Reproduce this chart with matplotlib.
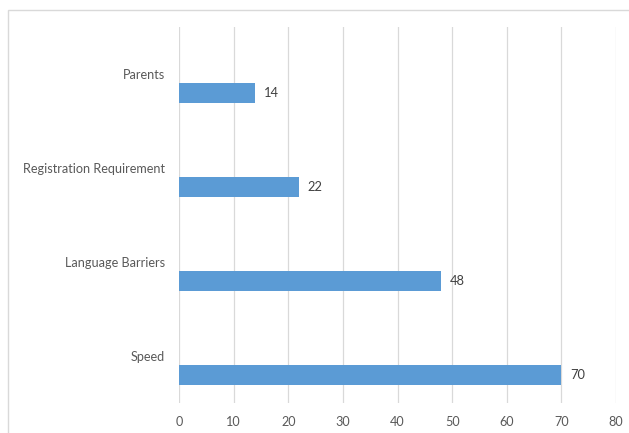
import matplotlib
matplotlib.use("Agg")
import matplotlib.pyplot as plt
from matplotlib.patches import Rectangle

categories = ["Speed", "Language Barriers", "Registration Requirement", "Parents"]
values = [70, 48, 22, 14]
xticks = [0, 10, 20, 30, 40, 50, 60, 70, 80]

plt.rcParams['font.family'] = ['Lato', 'DejaVu Sans']

W, H = 629, 433
fig = plt.figure(figsize=(W / 100, H / 100), dpi=100)
ax = fig.add_axes([179 / W, 1 - 403 / H, (616 - 179) / W, (403 - 27) / H])

# chart frame
fig.patches.append(Rectangle((8 / W, -0.05), 1.2, 1 - 10 / H + 0.05,
                             transform=fig.transFigure, fill=False,
                             edgecolor="#d9d9d9", linewidth=1.0, zorder=0))

pos = list(range(len(categories)))
bar_pos = [p - 0.2 for p in pos]
ax.barh(bar_pos, values, height=0.21, color="#5b9bd5", zorder=3)
for y, v in zip(bar_pos, values):
    ax.text(v + 1.6, y, str(v), va="center", ha="left", fontsize=9.3, color="#404040")

ax.set_xlim(0, 80)
ax.set_ylim(-0.5, len(categories) - 0.5)
ax.set_xticks(xticks)
ax.set_yticks(pos)
ax.set_yticklabels(categories)
ax.grid(axis="x", color="#d9d9d9", linewidth=0.9, zorder=0)
for s in ax.spines.values():
    s.set_visible(False)
ax.tick_params(axis="both", length=0, labelsize=9.1, labelcolor="#595959")
ax.tick_params(axis="x", pad=9)
ax.tick_params(axis="y", pad=10)

fig.savefig("out.png", dpi=100)
